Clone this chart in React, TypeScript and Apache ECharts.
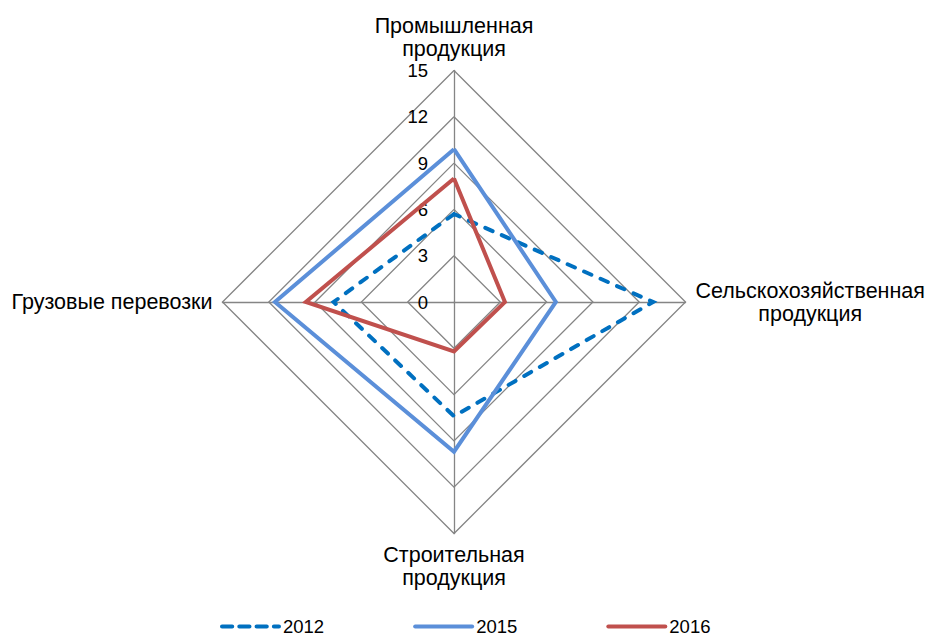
import React, { useEffect, useRef } from "react";
import * as echarts from "echarts";

const indicatorNames = [
  "Промышленная\nпродукция",
  "Грузовые перевозки",
  "Строительная\nпродукция",
  "Сельскохозяйственная\nпродукция",
];
const axisMax = 15;
const seriesNames = ["2012", "2015", "2016"];
// order of values follows indicatorNames: top, left, bottom, right
const values2012 = [5.7, 7.8, 7.4, 12.9];
const values2015 = [9.9, 11.6, 9.7, 6.6];
const values2016 = [8.0, 9.6, 3.2, 3.3];
const seriesColors = ["#0070C0", "#5B8FD9", "#C0504D"];

export default function App() {
  const ref = useRef<HTMLDivElement>(null);
  useEffect(() => {
    const chart = echarts.init(ref.current!, null, { renderer: "svg" });
    const font = "'Liberation Sans', Arial, sans-serif";
    const dashIcon =
      "path://M2,0h10a2,2 0 0 1 0,4h-10a2,2 0 0 1 0,-4z M19,0h10a2,2 0 0 1 0,4h-10a2,2 0 0 1 0,-4z M36,0h10a2,2 0 0 1 0,4h-10a2,2 0 0 1 0,-4z M53,0h5a2,2 0 0 1 0,4h-5a2,2 0 0 1 0,-4z";
    const solidIcon = "path://M2,0h56a2,2 0 0 1 0,4h-56a2,2 0 0 1 0,-4z";
    const allValues = [values2012, values2015, values2016];
    chart.setOption({
      animation: false,
      textStyle: { fontFamily: font },
      legend: {
        left: 215,
        top: 612,
        itemWidth: 61,
        itemHeight: 5,
        itemGap: 89,
        textStyle: { fontSize: 18.5, color: "#000", fontFamily: font, padding: [0, 0, 0, -3] },
        data: seriesNames.map((n, i) => ({
          name: n,
          icon: i === 0 ? dashIcon : solidIcon,
          itemStyle: { color: seriesColors[i] },
        })),
      },
      radar: {
        center: [454, 302],
        radius: 231.5,
        shape: "polygon",
        splitNumber: 5,
        startAngle: 90,
        nameGap: 10,
        axisName: {
          color: "#000",
          fontSize: 21.5,
          fontFamily: font,
          formatter: (v: string) =>
            v
              .split("\n")
              .map((s) => `{c|${s}}`)
              .join("\n"),
          rich: {
            c: {
              align: "center",
              fontSize: 21.5,
              lineHeight: 23,
              color: "#000",
              fontFamily: font,
            },
          },
        },
        indicator: indicatorNames.map((n, i) => ({
          name: n,
          min: 0,
          max: axisMax,
          ...(i === 0
            ? {
                axisLabel: {
                  show: true,
                  color: "#000",
                  fontSize: 18.5,
                  fontFamily: font,
                  margin: 26,
                  showMinLabel: true,
                  showMaxLabel: true,
                },
              }
            : {}),
        })),
        axisLabel: { show: false },
        axisLine: { lineStyle: { color: "#858585", width: 1.3 } },
        splitLine: { lineStyle: { color: "#858585", width: 1.3 } },
        splitArea: { show: false },
        axisTick: { show: false },
      },
      series: [
        {
          type: "radar",
          symbol: "none",
          data: seriesNames.map((n, i) => ({
            name: n,
            value: allValues[i],
            lineStyle: {
              color: seriesColors[i],
              width: 4,
              type: i === 0 ? [8, 10] : "solid",
              cap: i === 0 ? "round" : "butt",
              join: "miter",
            },
            itemStyle: { color: seriesColors[i] },
          })),
        },
      ],
    });
    return () => chart.dispose();
  }, []);
  return (
    <div
      ref={ref}
      style={{ position: "absolute", left: 0, top: 0, width: 926, height: 638, background: "#fff" }}
    />
  );
}
